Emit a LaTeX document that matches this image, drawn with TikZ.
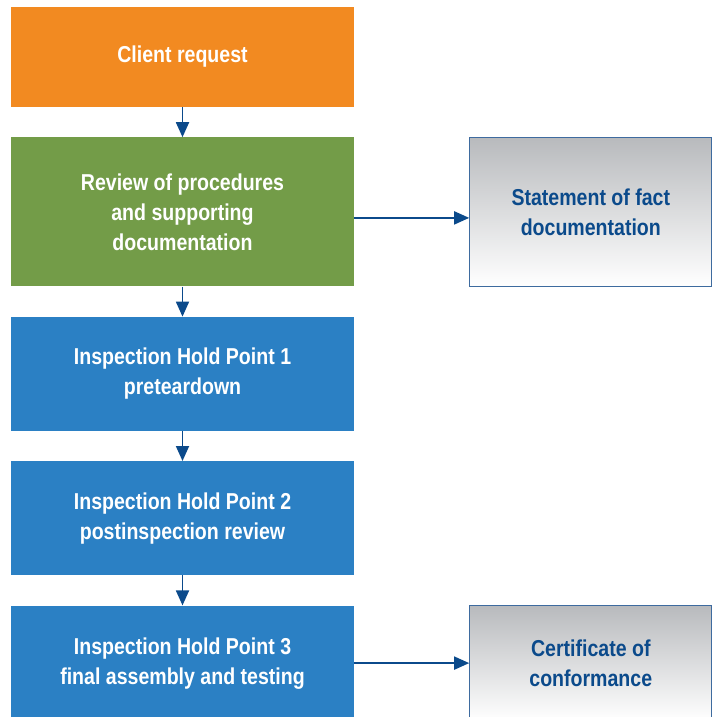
\documentclass[tikz,border=0pt]{standalone}
\usepackage{fontspec}
\setmainfont[FakeStretch=0.85]{Liberation Sans}
\usetikzlibrary{positioning}
\usetikzlibrary{arrows.meta}
\usetikzlibrary{graphs}

\definecolor{reqorange}{HTML}{F28A21}
\definecolor{revgreen}{HTML}{739C48}
\definecolor{holdblue}{HTML}{2B80C4}
\definecolor{arrowblue}{HTML}{0B4A8B}
\definecolor{outframe}{HTML}{3E6B9F}
\definecolor{outgray}{HTML}{B8BABD}

\begin{document}
\begin{tikzpicture}[x=1pt, y=1pt,
    every node/.style={inner sep=0pt, align=center, font=\bfseries\fontsize{23}{30}\selectfont},
    stage/.style={minimum width=343pt, text=white},
    result/.style={minimum width=242pt, draw=outframe, line width=1.2pt, top color=outgray, bottom color=white, text=arrowblue},
    flow/.style={draw=arrowblue, line width=1.8pt, -{Triangle[length=15pt, width=13pt]}}]
        \useasboundingbox (0,0) rectangle (717,-717);

        \node[stage, fill=reqorange, minimum height=100pt] (client) at (182.5,-57) {Client request};
        \node[stage, fill=revgreen, minimum height=149pt, below=30pt of client] (review) {Review of procedures\\ and supporting\\ documentation};
        \node[stage, fill=holdblue, minimum height=114pt, below=30pt of review] (hold1) {Inspection Hold Point 1\\ preteardown};
        \node[stage, fill=holdblue, minimum height=114pt, below=30pt of hold1] (hold2) {Inspection Hold Point 2\\ postinspection review};
        \node[stage, fill=holdblue, minimum height=115pt, below=30pt of hold2] (hold3) {Inspection Hold Point 3\\ final assembly and testing};

        \node[result, minimum height=149pt, right=115pt of review] (fact) {Statement of fact\\ documentation};
        \node[result, minimum height=115pt, right=115pt of hold3] (cert) {Certificate of\\ conformance};

        \graph { [edges={flow}]
            (client) -> (review) -> (hold1) -> (hold2) -> (hold3) -> (cert),
        };
        \draw[flow] ([yshift=-6pt]review.east) -- ([yshift=-6pt]fact.west);
    \end{tikzpicture}
\end{document}
